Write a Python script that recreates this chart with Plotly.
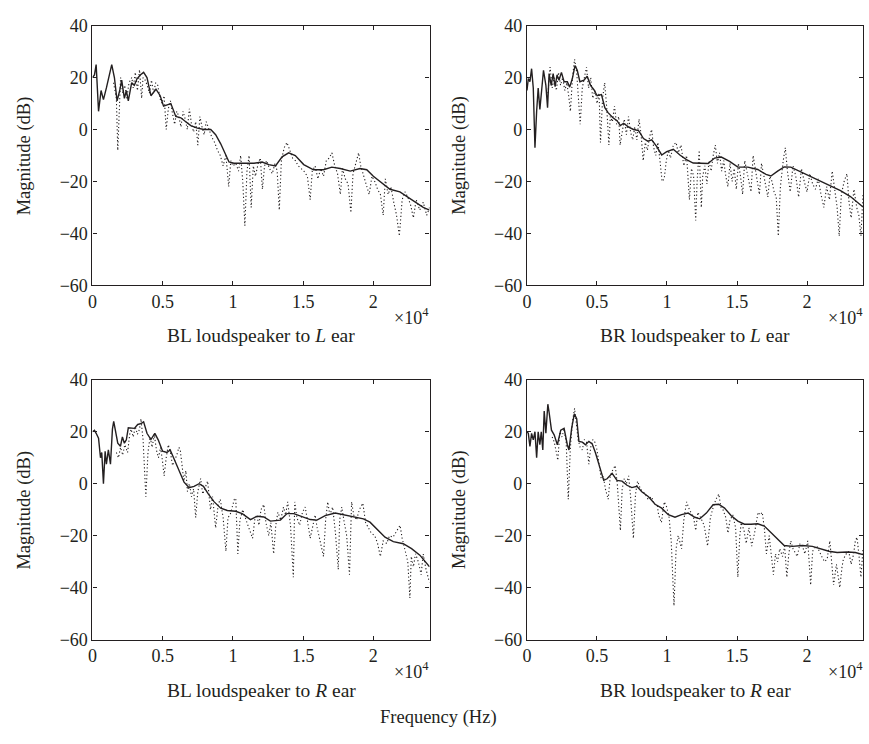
import plotly.graph_objects as go

# ---------------- data (Hz, dB) ----------------
# Panel 1: BL loudspeaker to L ear
bll_solid_f = [0, 140, 260, 430, 610, 780, 990, 1160, 1370, 1560,
               1750, 1940, 2080, 2270, 2410, 2550, 2790, 2980, 3170, 3400,
               3640, 3880, 4160, 4520, 4820, 5060, 5340, 5580, 5930, 6290,
               6640, 7000, 7470, 7940, 8420, 8770, 9130, 9480, 9720, 10070,
               10780, 11490, 12080, 12550, 13030, 13500, 13970, 14440, 15040, 15740,
               16450, 17040, 17640, 18350, 19050, 19530, 20000, 20710, 21180, 21890,
               22600, 23070, 23550, 24000]
bll_solid_db = [20, 21, 25, 7, 15, 11.5, 16, 20, 25, 20,
                11, 15, 19, 12, 15, 11, 18, 17, 19.5, 21,
                22, 20, 13, 15.5, 13, 9, 9.5, 10, 5, 4.5,
                3, 1.5, 0.5, 0, 0, -2, -5.5, -10, -12.5, -13,
                -13, -13, -12.5, -13.5, -14, -10.5, -9, -10, -13.5, -15.5,
                -15.5, -14.5, -15, -16, -15, -15.5, -18, -21, -23, -24,
                -26.5, -28, -30, -31]
bll_dot_f = [1500, 1700, 1800, 1900, 2000, 2150, 2300, 2450, 2600, 2800,
             2900, 3050, 3200, 3350, 3500, 3600, 3750, 3900, 4050, 4200,
             4350, 4500, 4650, 4800, 4950, 5100, 5250, 5400, 5550, 5700,
             5850, 6000, 6150, 6300, 6450, 6600, 6750, 6900, 7050, 7200,
             7350, 7500, 7650, 7800, 7950, 8100, 8300, 8500, 8700, 8900,
             9100, 9300, 9500, 9700, 9850, 10000, 10200, 10400, 10550, 10700,
             10850, 11000, 11150, 11300, 11450, 11600, 11800, 11950, 12100, 12250,
             12400, 12600, 12800, 13000, 13150, 13300, 13450, 13650, 13850, 14050,
             14250, 14450, 14650, 14850, 15050, 15300, 15500, 15650, 15850, 16050,
             16250, 16450, 16650, 16850, 17050, 17250, 17450, 17650, 17800, 18000,
             18200, 18400, 18550, 18750, 18950, 19100, 19300, 19500, 19700, 19900,
             20100, 20300, 20500, 20700, 20850, 21050, 21250, 21450, 21650, 21850,
             22050, 22250, 22450, 22650, 22850, 23050, 23300, 23550, 23800, 24000]
bll_dot_db = [18, 12, -8, 10, 20, 14, 17, 12, 18, 20,
              16, 22, 15, 23, 12, 20, 19, 17, 14, 19,
              14, 18, 17, 12, 10, 13, 0, 8, 11, 6,
              2, 7, 5, 1, 7, 4, 0, 8, 2, -1,
              3, -6, 5, 1, -2, 3, 0, -3, -5, -8,
              -10, -14, -10, -22, -12, -14, -13, -16, -10, -20,
              -37, -16, -10, -30, -14, -18, -13, -11, -23, -14,
              -12, -15, -17, -13, -16, -31, -12, -7, -5, -8,
              -11, -12, -14, -15, -16, -18, -27, -16, -14, -19,
              -15, -18, -12, -11, -9, -14, -17, -25, -15, -19,
              -21, -32, -17, -13, -9, -14, -18, -21, -25, -18,
              -20, -23, -25, -33, -19, -25, -22, -28, -33, -41,
              -27, -24, -26, -29, -34, -27, -31, -28, -33, -30]

# Panel 2: BR loudspeaker to L ear
brl_solid_f = [0, 95, 210, 330, 450, 570, 690, 800, 920, 1060,
               1180, 1350, 1470, 1580, 1730, 1870, 2010, 2150, 2290, 2460,
               2650, 2880, 3050, 3240, 3430, 3590, 3780, 4070, 4300, 4540,
               4780, 5010, 5320, 5560, 5790, 6120, 6430, 6670, 6900, 7260,
               7610, 7970, 8320, 8630, 8910, 9270, 9620, 9980, 10450, 10920,
               11390, 11870, 12460, 12930, 13400, 13880, 14470, 15060, 15770, 16480,
               17070, 17420, 17900, 18370, 18840, 19550, 20260, 20970, 21680, 22390,
               23100, 24000]
brl_solid_db = [15, 19.6, 18.4, 23.4, 16, -7, 7, 16, 7.7, 16,
                22.8, 17, 8.4, 21.5, 17, 21.5, 16.5, 21, 19, 22,
                18.4, 18.4, 16.3, 19.6, 24.6, 22.8, 18.4, 19, 20.5, 17,
                15.3, 13, 13.4, 8.4, 6.5, 4.6, 3.4, 1.5, 2.4, 0.9,
                0, -0.4, -3.5, -4.5, -4, -6.6, -9.8, -8.5, -7.6, -9.8,
                -11.6, -12.9, -12.9, -13.1, -11, -10.6, -12.3, -14.5, -14.5, -15.4,
                -17.3, -17.9, -16, -14.4, -14.5, -16.3, -17.9, -19.8, -21.6, -23.5,
                -25.8, -29.8]
brl_dot_f = [1500, 1650, 1800, 1950, 2100, 2250, 2400, 2550, 2700, 2850,
             3000, 3100, 3250, 3400, 3550, 3700, 3800, 3950, 4100, 4250,
             4400, 4550, 4700, 4850, 5000, 5150, 5250, 5400, 5550, 5700,
             5850, 5950, 6100, 6250, 6400, 6550, 6650, 6800, 6950, 7100,
             7250, 7400, 7550, 7700, 7850, 8000, 8150, 8300, 8450, 8600,
             8750, 8900, 9050, 9200, 9350, 9500, 9650, 9800, 9950, 10100,
             10250, 10450, 10650, 10800, 11000, 11200, 11400, 11600, 11750, 11900,
             12050, 12150, 12300, 12450, 12550, 12700, 12850, 13000, 13150, 13300,
             13450, 13600, 13750, 13900, 14050, 14200, 14350, 14500, 14650, 14800,
             14950, 15100, 15250, 15400, 15550, 15700, 15850, 16000, 16150, 16300,
             16450, 16600, 16750, 16900, 17050, 17200, 17350, 17500, 17650, 17800,
             17950, 18100, 18300, 18450, 18600, 18800, 19000, 19200, 19400, 19600,
             19800, 20000, 20200, 20400, 20600, 20800, 21000, 21200, 21400, 21600,
             21800, 21950, 22150, 22300, 22450, 22650, 22850, 23000, 23150, 23350,
             23550, 23700, 23850, 24000]
brl_dot_db = [14, 24, 16, 20, 15, 22, 17, 20, 15, 18,
              12, 7, 20, 27, 22, 12, 2, 16, 20, 24,
              16, 20, 12, 15, 10, 14, -5, 12, 18, 8,
              -6, 5, 3, 9, 2, 5, -6, 0, 4, -2,
              5, -1, -4, 1, -4, 4, -2, -12, -5, -8,
              -3, 0, -7, -10, -5, -12, -20, -19, -12, -8,
              -11, -6, -5, -9, -6, -14, -10, -27, -15, -18,
              -35, -20, -8, -30, -18, -14, -21, -12, -16, -10,
              -6, -13, -9, -16, -12, -18, -22, -13, -20, -15,
              -23, -13, -18, -25, -12, -16, -20, -24, -10, -15,
              -19, -25, -13, -17, -22, -26, -18, -20, -24, -26,
              -41, -22, -12, -7, -16, -24, -14, -18, -26, -15,
              -20, -24, -17, -21, -23, -19, -25, -30, -22, -27,
              -16, -23, -30, -41, -25, -20, -17, -28, -34, -23,
              -30, -33, -41, -25]

# Panel 3: BL loudspeaker to R ear
blr_solid_f = [0, 140, 260, 430, 570, 660, 780, 900, 990, 1130,
               1280, 1420, 1510, 1630, 1800, 1990, 2130, 2270, 2410, 2550,
               2740, 2980, 3220, 3450, 3640, 3880, 4160, 4440, 4680, 4990,
               5300, 5530, 5820, 6170, 6520, 6880, 7230, 7590, 7900, 8230,
               8650, 9130, 9600, 10190, 10660, 11250, 11730, 12200, 12670, 13380,
               13850, 14330, 14920, 15510, 15980, 16570, 17280, 17870, 18580, 19290,
               19760, 20240, 20830, 21420, 22130, 22720, 23310, 24000]
blr_solid_db = [20, 20.6, 19.4, 17.5, 10, 12, 0, 12.5, 7.5, 13,
                7.5, 21, 24, 20, 15.6, 14.4, 18, 15.6, 16.9, 21.5,
                21.3, 21.3, 22.8, 23.1, 23.8, 19.4, 17, 19.4, 16.9, 12.5,
                12, 13, 9.4, 5, 0.6, -1.5, -1, 0, -1, -3.8,
                -6.9, -9.4, -10.3, -10.6, -11.5, -13.8, -12.5, -12.8, -14.4, -14,
                -11.5, -11.5, -12.5, -13.8, -14, -12.3, -11.3, -12, -12.9, -13.5,
                -14.8, -17.5, -20.6, -22.3, -23.1, -25, -27.5, -32]
blr_dot_f = [1700, 1850, 2000, 2150, 2300, 2500, 2650, 2750, 2900, 3050,
             3200, 3350, 3450, 3600, 3800, 3950, 4100, 4250, 4400, 4550,
             4700, 4850, 5000, 5100, 5250, 5400, 5550, 5700, 5850, 6000,
             6150, 6250, 6400, 6500, 6650, 6760, 6900, 7050, 7200, 7350,
             7500, 7700, 7850, 8000, 8200, 8400, 8550, 8770, 8950, 9100,
             9300, 9500, 9650, 9800, 9950, 10100, 10200, 10350, 10500, 10700,
             11000, 11200, 11400, 11550, 11700, 11850, 12000, 12200, 12350, 12550,
             12700, 12900, 13050, 13200, 13400, 13600, 13750, 13900, 14100, 14300,
             14400, 14550, 14750, 14950, 15150, 15300, 15500, 15700, 15850, 16000,
             16200, 16450, 16600, 16750, 16900, 17100, 17300, 17500, 17600, 17750,
             17900, 18100, 18300, 18450, 18600, 18800, 19000, 19250, 19450, 19650,
             19850, 20100, 20300, 20500, 20700, 20950, 21150, 21400, 21650, 21900,
             22050, 22250, 22450, 22600, 22700, 22850, 23000, 23200, 23400, 23550,
             23750, 24000]
blr_dot_db = [12, 10, 14, 11, 15, 12, 19, 21, 18, 22,
              19, 21, 25, 17, -5, 12, 18, 14, 19, 13,
              10, 14, 8, 3, 10, 15, 12, 7, 9, 11,
              14, 13, 6, 1, 5, -3, 0, -5, -2, -13,
              -3, 2, -4, -2, 1, -10, -5, -17, -8, -6,
              -13, -26, -13, -12, -9, -6, -5.6, -27, -14, -10,
              -15, -18, -21, -14, -12, -16, -10, -8, -15, -20,
              -15, -27, -16, -11, -14, -9, -12, -7, -16, -36,
              -7, -13, -16, -11, -9, -14, -21, -16, -12, -17,
              -22, -28, -14, -7, -12, -9, -19, -33, -14, -9,
              -14, -20, -35, -7, -12, -14, -10, -7.5, -15, -17,
              -19, -20, -23, -28, -22, -23, -20, -20.6, -18, -16,
              -21, -25, -30, -44, -28, -32, -27, -30, -35, -27,
              -33, -38]

# Panel 4: BR loudspeaker to R ear
brr_solid_f = [0, 95, 210, 330, 450, 570, 690, 800, 920, 1020,
               1130, 1230, 1350, 1490, 1580, 1750, 1940, 2170, 2410, 2650,
               2880, 3000, 3190, 3380, 3550, 3710, 3950, 4180, 4420, 4660,
               4890, 5250, 5480, 5720, 6080, 6430, 6790, 7140, 7490, 7850,
               8200, 8680, 9150, 9620, 10090, 10570, 11040, 11510, 11990, 12340,
               12810, 13290, 13690, 14110, 14590, 15060, 15530, 16000, 16480, 16950,
               17420, 17900, 18370, 18960, 19670, 20380, 20970, 21560, 22150, 22860,
               23450, 24000]
brr_solid_db = [20, 19.4, 14.4, 19.4, 16.9, 20, 10, 20, 15, 20,
                13, 28, 19.4, 30.6, 27.5, 20.6, 18.8, 15, 20.6, 21.3,
                15, 13, 21.3, 26.9, 25, 16.3, 16, 15, 16.3, 15.3,
                11.9, 5, 1.3, 1.9, 4, 1.3, 1, -0.6, -1.5, -1,
                -3.1, -5, -7.9, -9.4, -11.9, -12.9, -11.9, -11.3, -12.9, -13.5,
                -11.3, -8.1, -7.9, -9.4, -12.3, -14.4, -15.6, -15.6, -15.4, -16.3,
                -18.8, -21.5, -23.8, -24.1, -23.8, -24.1, -25, -26, -26.5, -26.3,
                -26.5, -27.3]
brr_dot_f = [1800, 1950, 2100, 2200, 2350, 2500, 2650, 2800, 2950, 3100,
             3250, 3400, 3550, 3650, 3800, 3950, 4100, 4250, 4420, 4550,
             4700, 4850, 5000, 5150, 5300, 5450, 5600, 5800, 5950, 6100,
             6300, 6450, 6670, 6800, 6950, 7100, 7260, 7400, 7600, 7750,
             7900, 8100, 8300, 8450, 8650, 8900, 9100, 9300, 9400, 9600,
             9800, 9980, 10150, 10300, 10500, 10650, 10800, 11040, 11200, 11400,
             11600, 11900, 12050, 12200, 12400, 12650, 12900, 13100, 13300, 13500,
             13700, 13850, 14000, 14200, 14350, 14500, 14700, 14900, 15060, 15200,
             15300, 15500, 15650, 15850, 16050, 16250, 16500, 16650, 16800, 16950,
             17100, 17300, 17600, 17750, 17900, 18050, 18250, 18400, 18560, 18700,
             18840, 19000, 19300, 19500, 19670, 19850, 20050, 20260, 20400, 20500,
             20700, 20850, 21050, 21250, 21440, 21630, 21900, 22100, 22340, 22500,
             22600, 22800, 22980, 23150, 23330, 23450, 23570, 23700, 23850, 24000]
brr_dot_db = [18, 16, 12, 9, 20, 18, 21, 16, -6, 14,
              24, 29, 22, 17, 14, 13, 17, 16, 7.5, 14,
              17, 16, 13, 8, 2, 3, -2, -6, 3, 5,
              7, 0, -18, -2, 2, 0, 3, -5, -21, -4,
              1, -2, -3, -4, -6, -5, -8, -8, -12, -15,
              -7, -9, -13, -22, -47, -25, -20, -25, -14, -7,
              -10, -13, -18, -11, -13, -16, -24, -13, -9, -6,
              -4, -9, -10, -13, -19, -14, -12, -17, -36, -20,
              -15, -18, -23, -17, -24, -19, -11, -12, -11, -17,
              -27, -20, -35, -27, -30, -25, -28, -24, -36, -27,
              -22, -25, -28, -23, -24, -27, -22, -39, -26, -25,
              -24, -26, -28, -30, -29, -22, -39, -31, -40, -32,
              -29, -27, -26, -31, -27, -22, -20.6, -27, -36, -25]

panels = [
    (bll_solid_f, bll_solid_db, bll_dot_f, bll_dot_db),
    (brl_solid_f, brl_solid_db, brl_dot_f, brl_dot_db),
    (blr_solid_f, blr_solid_db, blr_dot_f, blr_dot_db),
    (brr_solid_f, brr_solid_db, brr_dot_f, brr_dot_db),
]
captions = ["BL loudspeaker to <i>L</i> ear", "BR loudspeaker to <i>L</i> ear",
            "BL loudspeaker to <i>R</i> ear", "BR loudspeaker to <i>R</i> ear"]

x_tickvals = [0, 5000, 10000, 15000, 20000]
x_ticktext = ["0", "0.5", "1", "1.5", "2"]
y_tickvals = [-60, -40, -20, 0, 20, 40]
y_ticktext = ["\u221260", "\u221240", "\u221220", "0", "20", "40"]

# ---------------- layout geometry (pixels) ----------------
W, H = 869, 744
FONT = "Liberation Serif"
INK = "#231f20"
col_px = [(88, 427), (525, 863)]
row_px = [(16, 283), (380, 647)]


def fx(x):
    return x / W


def fy(y):
    return 1 - y / H


fig = go.Figure()
annotations = []
for i, (sf, sv, df, dv) in enumerate(panels):
    r, c = divmod(i, 2)
    xa = "x" if i == 0 else f"x{i+1}"
    ya = "y" if i == 0 else f"y{i+1}"
    fig.add_trace(go.Scatter(x=df, y=dv, xaxis=xa, yaxis=ya, mode="lines",
                             line=dict(color=INK, width=1.1, dash="1.2px,2.4px"),
                             showlegend=False, hoverinfo="skip"))
    fig.add_trace(go.Scatter(x=sf, y=sv, xaxis=xa, yaxis=ya, mode="lines",
                             line=dict(color=INK, width=1.4),
                             showlegend=False, hoverinfo="skip"))
    x0, x1 = col_px[c]
    y0, y1 = row_px[r]
    axkey = "xaxis" if i == 0 else f"xaxis{i+1}"
    aykey = "yaxis" if i == 0 else f"yaxis{i+1}"
    common = dict(showline=True, mirror="ticks", linecolor=INK, linewidth=1.2,
                  ticks="inside", ticklen=4, tickcolor=INK, tickwidth=1,
                  showgrid=False, zeroline=False,
                  tickfont=dict(family=FONT, size=18, color=INK))
    fig.update_layout(**{
        axkey: dict(domain=[fx(x0), fx(x1)], range=[0, 24000], anchor=ya,
                    tickmode="array", tickvals=x_tickvals, ticktext=x_ticktext,
                    **common),
        aykey: dict(domain=[fy(y1), fy(y0)], range=[-60, 40], anchor=xa,
                    tickmode="array", tickvals=y_tickvals, ticktext=y_ticktext,
                    **common),
    })
    # x10^4 multiplier
    annotations.append(dict(x=fx(x1 - 18), y=fy(y1 + 32), xref="paper", yref="paper",
                            xanchor="center", yanchor="middle",
                            text="\u00d710<sup>4</sup>", showarrow=False,
                            font=dict(family=FONT, size=18, color=INK)))
    # caption
    annotations.append(dict(x=fx((x0 + x1) / 2), y=fy(y1 + 52), xref="paper", yref="paper",
                            xanchor="center", yanchor="middle",
                            text=captions[i], showarrow=False,
                            font=dict(family=FONT, size=19.5, color=INK)))
    # y-axis title
    annotations.append(dict(x=fx(x0 - 68), y=fy((y0 + y1) / 2), xref="paper", yref="paper",
                            xanchor="center", yanchor="middle",
                            text="Magnitude (dB)", textangle=-90, showarrow=False,
                            font=dict(family=FONT, size=18.5, color=INK)))

annotations.append(dict(x=fx(436), y=fy(727), xref="paper", yref="paper",
                        xanchor="center", yanchor="middle",
                        text="Frequency (Hz)", showarrow=False,
                        font=dict(family=FONT, size=18.5, color=INK)))

fig.update_layout(width=W, height=H, margin=dict(l=0, r=0, t=0, b=0),
                  paper_bgcolor="white", plot_bgcolor="white",
                  annotations=annotations, showlegend=False)

fig.write_html("out.html", config={"displayModeBar": False},
               post_script="document.body.style.margin='0px';"
                           "document.body.style.overflow='hidden';")
